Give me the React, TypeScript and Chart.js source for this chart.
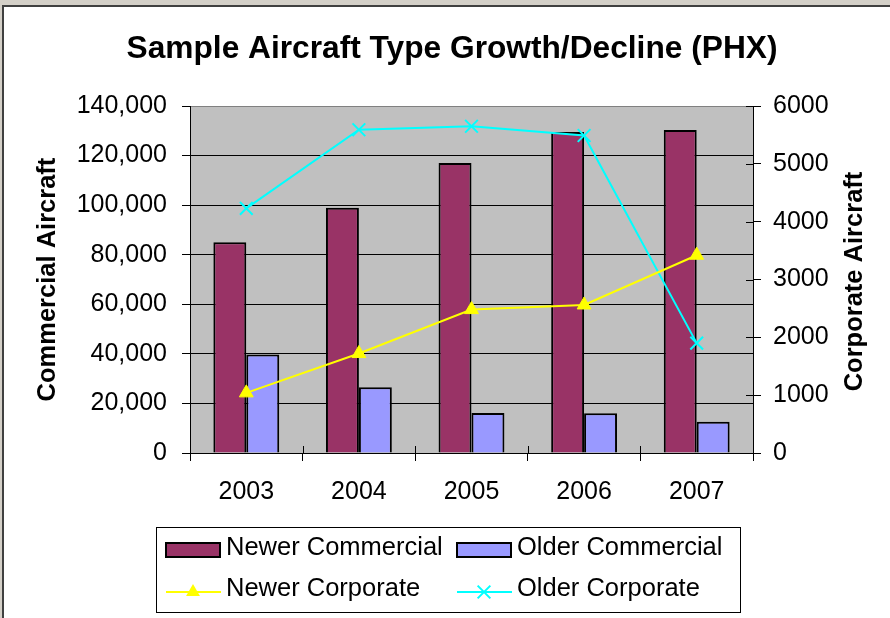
import React, { useEffect, useRef } from 'react';
import { Chart, registerables } from 'chart.js';

Chart.register(...registerables);

const years = ['2003', '2004', '2005', '2006', '2007'];
const newerCommercial = [85000, 99000, 117000, 129500, 130300];
const olderCommercial = [39700, 26500, 16100, 16000, 12600];
const newerCorporate = [1040, 1720, 2480, 2560, 3420];
const olderCorporate = [4230, 5590, 5650, 5490, 1900];

const seriesLabels = ['Newer Commercial', 'Older Commercial', 'Newer Corporate', 'Older Corporate'];
const chartTitle = 'Sample Aircraft Type Growth/Decline (PHX)';
const leftAxisTitle = 'Commercial Aircraft';
const rightAxisTitle = 'Corporate Aircraft';

const FONT = "'Liberation Sans', Arial, sans-serif";

const drawMarker = (ctx: CanvasRenderingContext2D, style: string, x: number, y: number, r: number, color: string) => {
  ctx.save();
  ctx.strokeStyle = color;
  ctx.fillStyle = color;
  ctx.lineWidth = 2;
  ctx.beginPath();
  if (style === 'triangle') {
    const s = r * Math.sqrt(3) / 2;
    ctx.moveTo(x, y - r);
    ctx.lineTo(x + s, y + r / 2);
    ctx.lineTo(x - s, y + r / 2);
    ctx.closePath();
    ctx.fill();
  } else {
    const d = r * Math.SQRT1_2;
    ctx.moveTo(x - d, y - d);
    ctx.lineTo(x + d, y + d);
    ctx.moveTo(x + d, y - d);
    ctx.lineTo(x - d, y + d);
    ctx.stroke();
  }
  ctx.restore();
};

const framePlugin = {
  id: 'excelFrame',
  beforeDraw(chart: any) {
    const { ctx, chartArea: a } = chart;
    ctx.save();
    ctx.fillStyle = '#c0c0c0';
    ctx.fillRect(a.left, a.top, a.right - a.left, a.bottom - a.top);
    ctx.restore();
  },
  afterDraw(chart: any) {
    const { ctx, chartArea: a } = chart;
    const x = chart.scales.x;
    const y1 = chart.scales.y1;
    ctx.save();
    ctx.strokeStyle = '#000';
    ctx.lineWidth = 1;
    const n = x.getLabels().length;
    const w = (a.right - a.left) / n;
    ctx.beginPath();
    for (let i = 1; i < n; i++) {
      const px = Math.round(a.left + i * w) + 0.5;
      ctx.moveTo(px, a.bottom);
      ctx.lineTo(px, a.bottom - 7);
    }
    y1.ticks.forEach((t: any) => {
      const py = Math.round(y1.getPixelForValue(t.value)) + 0.5;
      ctx.moveTo(a.right - 7, py);
      ctx.lineTo(a.right, py);
    });
    ctx.stroke();

    ctx.fillStyle = '#000';
    ctx.font = `bold 25.5px ${FONT}`;
    ctx.textAlign = 'center';
    ctx.textBaseline = 'middle';
    ctx.translate(855, (a.top + a.bottom) / 2 + 2);
    ctx.rotate(-Math.PI / 2);
    ctx.fillText(rightAxisTitle, 0, 0);
    ctx.restore();

    // legend box
    ctx.save();
    const box = { x: 156.5, y: 527.5, w: 584, h: 85 };
    ctx.fillStyle = '#fff';
    ctx.fillRect(box.x, box.y, box.w, box.h);
    ctx.strokeStyle = '#000';
    ctx.lineWidth = 1;
    ctx.strokeRect(box.x, box.y, box.w, box.h);
    const colX = [166, 457];
    const rowY = [550, 591];
    chart.data.datasets.forEach((ds: any, i: number) => {
      const sx = colX[i % 2];
      const sy = rowY[Math.floor(i / 2)];
      if (ds.type === 'bar') {
        ctx.fillStyle = ds.backgroundColor;
        ctx.fillRect(sx, sy - 7, 54, 14);
        ctx.strokeStyle = '#000';
        ctx.lineWidth = 2;
        ctx.strokeRect(sx, sy - 7, 54, 14);
      } else {
        ctx.strokeStyle = ds.borderColor;
        ctx.lineWidth = 2;
        ctx.beginPath();
        ctx.moveTo(sx, sy + 1);
        ctx.lineTo(sx + 55, sy + 1);
        ctx.stroke();
        drawMarker(ctx, ds.pointStyle, sx + 27, sy + 1, ds.pointRadius, ds.borderColor);
      }
      ctx.fillStyle = '#000';
      ctx.font = `25.5px ${FONT}`;
      ctx.textAlign = 'left';
      ctx.textBaseline = 'middle';
      ctx.fillText(ds.label, sx + 60, sy - 2);
    });
    ctx.restore();
  },
};

export default function App() {
  const ref = useRef<HTMLCanvasElement | null>(null);

  useEffect(() => {
    if (!ref.current) return;
    const chart = new Chart(ref.current, {
      type: 'bar',
      data: {
        labels: years,
        datasets: [
          {
            type: 'bar',
            label: seriesLabels[0],
            data: newerCommercial,
            backgroundColor: '#993366',
            borderColor: '#000',
            borderWidth: 2,
            yAxisID: 'y',
            order: 2,
            categoryPercentage: 0.585,
            barPercentage: 1,
          },
          {
            type: 'bar',
            label: seriesLabels[1],
            data: olderCommercial,
            backgroundColor: '#9999ff',
            borderColor: '#000',
            borderWidth: 2,
            yAxisID: 'y',
            order: 2,
            categoryPercentage: 0.585,
            barPercentage: 1,
          },
          {
            type: 'line',
            label: seriesLabels[2],
            data: newerCorporate,
            borderColor: '#ffff00',
            backgroundColor: '#ffff00',
            borderWidth: 2,
            pointStyle: 'triangle',
            pointRadius: 8,
            pointBorderWidth: 1,
            yAxisID: 'y1',
            order: 1,
          },
          {
            type: 'line',
            label: seriesLabels[3],
            data: olderCorporate,
            borderColor: '#00ffff',
            backgroundColor: '#00ffff',
            borderWidth: 2,
            pointStyle: 'crossRot',
            pointRadius: 9,
            pointBorderWidth: 2,
            yAxisID: 'y1',
            order: 1,
          },
        ] as any,
      },
      options: {
        responsive: false,
        animation: false,
        layout: { padding: { left: 14, right: 0, top: 0, bottom: 105 } },
        plugins: {
          legend: { display: false },
          tooltip: { enabled: false },
          title: {
            display: true,
            text: chartTitle,
            color: '#000',
            font: { family: FONT, size: 31.7, weight: 'bold' },
            padding: { top: 30, bottom: 38 },
          },
        },
        scales: {
          x: {
            offset: true,
            grid: {
              offset: true,
              drawOnChartArea: false,
              color: '#000',
              tickLength: 8,
            },
            border: { color: '#000', width: 1 },
            ticks: { color: '#000', font: { family: FONT, size: 25 }, padding: 16, maxRotation: 0 },
            afterFit: (s: any) => { s.height = 60; },
          },
          y: {
            position: 'left',
            min: 0,
            max: 140000,
            ticks: {
              stepSize: 20000,
              color: '#000',
              font: { family: FONT, size: 25 },
              padding: 15,
              callback: (v: any) => Number(v).toLocaleString('en-US'),
            },
            grid: {
              color: (c: any) => (c.tick && c.tick.value === 140000 ? '#808080' : '#000'),
              tickColor: '#000',
              tickLength: 8,
            },
            border: { color: '#000', width: 1 },
            title: {
              display: true,
              text: leftAxisTitle,
              color: '#000',
              font: { family: FONT, size: 25.5, weight: 'bold' },
              padding: { top: 19, bottom: 0 },
            },
            afterFit: (s: any) => { s.width = 176; },
          },
          y1: {
            position: 'right',
            min: 0,
            max: 6000,
            ticks: {
              stepSize: 1000,
              color: '#000',
              font: { family: FONT, size: 25 },
              padding: 12,
              callback: (v: any) => String(v),
            },
            grid: { drawOnChartArea: false, color: '#000', tickLength: 8 },
            border: { color: '#000', width: 1 },
            afterFit: (s: any) => { s.width = 137; },
          },
        },
      } as any,
      plugins: [framePlugin],
    });
    return () => chart.destroy();
  }, []);

  return (
    <div style={{ position: 'fixed', left: 0, top: 0, width: 890, height: 618, background: '#d4d0c8', overflow: 'hidden' }}>
      <div
        style={{
          position: 'absolute',
          left: 2,
          top: 5,
          width: 900,
          height: 700,
          background: '#fff',
          borderTop: '2px solid #404040',
          borderLeft: '2px solid #404040',
        }}
      />
      <canvas ref={ref} width={890} height={618} style={{ position: 'absolute', left: 0, top: 0, width: 890, height: 618 }} />
    </div>
  );
}
